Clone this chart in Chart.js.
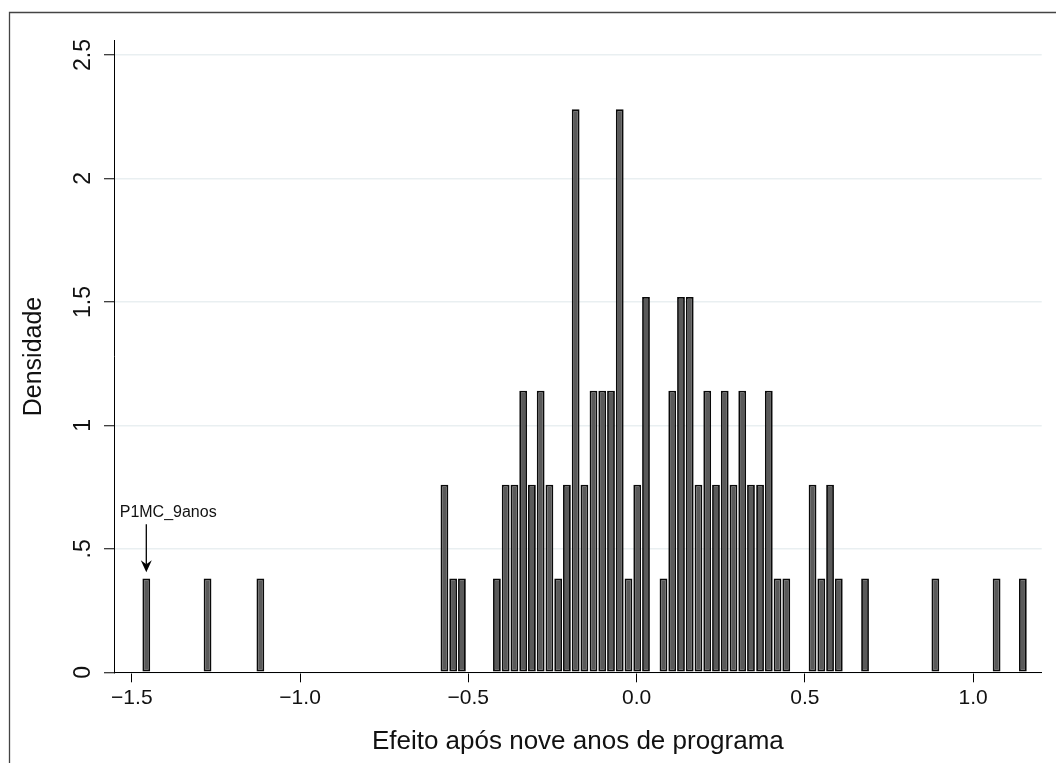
<!DOCTYPE html>
<html>
<head>
<meta charset="utf-8">
<script src="https://cdn.jsdelivr.net/npm/chart.js@4.4.1/dist/chart.umd.min.js"></script>
<style>
    html, body { margin: 0; padding: 0; background: #fff; overflow: hidden; }
    canvas { display: block; }
</style>
</head>
<body>
<canvas id="histChart" width="1056" height="763"></canvas>
<script>
// Bin midpoints (effect after nine years) and histogram densities
const binCenters = [
    -1.457, -1.275, -1.118,
    -0.571, -0.545, -0.519,
    -0.415, -0.389, -0.363, -0.337, -0.311, -0.285, -0.259, -0.233, -0.207,
    -0.181, -0.155, -0.128, -0.102, -0.076, -0.050, -0.024, 0.002, 0.028,
    0.080, 0.106, 0.132, 0.158, 0.184, 0.210, 0.236, 0.262, 0.288, 0.314,
    0.340, 0.367, 0.393, 0.419, 0.445,
    0.523, 0.549, 0.575, 0.601,
    0.679, 0.888, 1.070, 1.148
];
const densities = [
    0.38, 0.38, 0.38,
    0.76, 0.38, 0.38,
    0.38, 0.76, 0.76, 1.14, 0.76, 1.14, 0.76, 0.38, 0.76,
    2.28, 0.76, 1.14, 1.14, 1.14, 2.28, 0.38, 0.76, 1.52,
    0.38, 1.14, 1.52, 1.52, 0.76, 1.14, 0.76, 1.14, 0.76, 1.14,
    0.76, 0.76, 1.14, 0.38, 0.38,
    0.76, 0.38, 0.76, 0.38,
    0.38, 0.38, 0.38, 0.38
];

// Axis ticks
const xTickValues = [-1.5, -1.0, -0.5, 0.0, 0.5, 1.0];
const xTickLabels = ['\u22121.5', '\u22121.0', '\u22120.5', '0.0', '0.5', '1.0'];
const yTickValues = [0, 0.5, 1, 1.5, 2, 2.5];
const yTickLabels = ['0', '.5', '1', '1.5', '2', '2.5'];

const xTitle = 'Efeito após nove anos de programa';
const yTitle = 'Densidade';

// Marked observation
const markLabel = 'P1MC_9anos';
const markX = -1.457;

const FONT = "'Liberation Sans', Arial, Helvetica, sans-serif";
Chart.defaults.font.family = FONT;

// Frame, rotated y labels and the arrow annotation
const extrasPlugin = {
    id: 'extras',
    beforeDraw(chart) {
        const ctx = chart.ctx;
        ctx.save();
        ctx.strokeStyle = '#444';
        ctx.lineWidth = 1.3;
        ctx.beginPath();
        ctx.moveTo(9.5, 800);
        ctx.lineTo(9.5, 12.5);
        ctx.lineTo(1100, 12.5);
        ctx.stroke();
        ctx.restore();
    },
    afterDatasetsDraw(chart) {
        const ctx = chart.ctx;
        const xs = chart.scales.x;
        const ys = chart.scales.y;

        // y tick labels, turned like the original
        ctx.save();
        ctx.fillStyle = '#111';
        ctx.font = '23px ' + FONT;
        ctx.textAlign = 'center';
        ctx.textBaseline = 'alphabetic';
        yTickValues.forEach((v, i) => {
            const py = ys.getPixelForValue(v);
            ctx.save();
            ctx.translate(90, py);
            ctx.rotate(-Math.PI / 2);
            ctx.fillText(yTickLabels[i], 0, 0);
            ctx.restore();
        });
        ctx.restore();

        // arrow pointing at the marked bar
        const ax = xs.getPixelForValue(markX);
        const yTop = ys.getPixelForValue(0.60);
        const yTip = ys.getPixelForValue(0.405);
        ctx.save();
        ctx.strokeStyle = '#000';
        ctx.fillStyle = '#000';
        ctx.lineWidth = 1.3;
        ctx.beginPath();
        ctx.moveTo(ax, yTop);
        ctx.lineTo(ax, yTip - 8);
        ctx.stroke();
        ctx.beginPath();
        ctx.moveTo(ax, yTip);
        ctx.lineTo(ax - 5.5, yTip - 12);
        ctx.lineTo(ax, yTip - 8);
        ctx.lineTo(ax + 5.5, yTip - 12);
        ctx.closePath();
        ctx.fill();

        ctx.font = '16px ' + FONT;
        ctx.textAlign = 'left';
        ctx.textBaseline = 'alphabetic';
        ctx.fillStyle = '#111';
        ctx.fillText(markLabel, xs.getPixelForValue(-1.536), ys.getPixelForValue(0.629));
        ctx.restore();
    }
};

const ctx = document.getElementById('histChart').getContext('2d');
const histChart = new Chart(ctx, {
    type: 'bar',
    data: {
        datasets: [{
            data: binCenters.map((x, i) => ({ x: x, y: densities[i] })),
            backgroundColor: '#5a5a5a',
            borderColor: '#0a0a0a',
            borderWidth: 1.8,
            borderSkipped: false,
            barPercentage: 0.89,
            categoryPercentage: 1.0
        }]
    },
    options: {
        responsive: false,
        animation: false,
        layout: { padding: { top: 40.7, right: 14.3, bottom: 0, left: 0 } },
        plugins: {
            legend: { display: false },
            tooltip: { enabled: false }
        },
        scales: {
            x: {
                type: 'linear',
                min: -1.553,
                max: 1.204,
                offset: false,
                afterBuildTicks: axis => { axis.ticks = xTickValues.map(v => ({ value: v })); },
                afterFit: axis => { axis.height = 90.7; },
                grid: {
                    display: true,
                    drawOnChartArea: false,
                    drawTicks: true,
                    tickLength: 10,
                    tickColor: '#000',
                    tickWidth: 1,
                    offset: false
                },
                border: { display: true, color: '#000', width: 1 },
                ticks: {
                    autoSkip: false,
                    maxRotation: 0,
                    padding: 3,
                    color: '#111',
                    font: { size: 21 },
                    callback: (value, index) => xTickLabels[index]
                },
                title: {
                    display: true,
                    text: xTitle,
                    color: '#111',
                    font: { size: 26 },
                    padding: { top: 0, bottom: 6 }
                }
            },
            y: {
                type: 'linear',
                min: 0,
                max: 2.558,
                afterBuildTicks: axis => { axis.ticks = yTickValues.map(v => ({ value: v })); },
                afterFit: axis => { axis.width = 114; },
                grid: {
                    color: '#e9eff1',
                    lineWidth: 1.5,
                    drawTicks: true,
                    tickLength: 10,
                    tickColor: '#000',
                    tickWidth: 1
                },
                border: { display: true, color: '#000', width: 1 },
                ticks: { display: false },
                title: {
                    display: true,
                    text: yTitle,
                    color: '#111',
                    font: { size: 25 },
                    padding: { top: 19, bottom: 0 }
                }
            }
        }
    },
    plugins: [extrasPlugin]
});
</script>
</body>
</html>
